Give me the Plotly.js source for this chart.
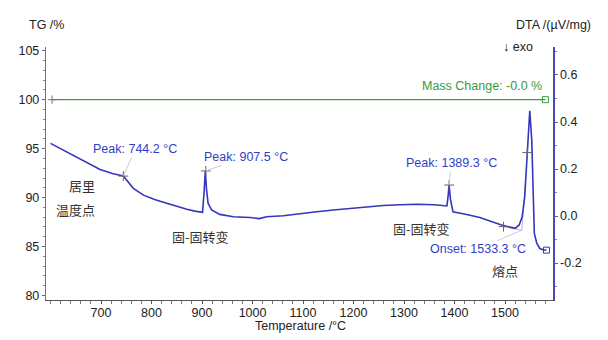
<!DOCTYPE html>
<html><head><meta charset="utf-8">
<script src="https://cdn.plot.ly/plotly-3.0.1.min.js"></script>
<style>html,body{margin:0;padding:0;background:#fff}#c{width:608px;height:340px}</style>
</head><body><div id="c"></div>
<script>
// ---- data ----
var dtaTemp = [600,631,664,698,724,736,740,744.2,749,754,764,784,806,830,850,870,886,901,904,906.5,909,912,919,935,962,995,1013,1028,1061,1094,1127,1160,1193,1226,1259,1292,1325,1360,1385,1387.5,1389.3,1392,1397,1424,1450,1493,1520,1528,1534,1539,1544,1546,1549,1553,1555,1556,1558,1563,1569,1575,1582];
var dtaVal  = [0.309,0.274,0.235,0.198,0.180,0.174,0.172,0.170,0.158,0.146,0.118,0.089,0.070,0.054,0.041,0.029,0.021,0.016,0.10,0.192,0.11,0.054,0.026,0.007,-0.003,-0.006,-0.011,-0.003,0.001,0.011,0.018,0.026,0.033,0.037,0.045,0.048,0.050,0.048,0.043,0.09,0.132,0.07,0.018,0.007,-0.006,-0.038,-0.052,-0.038,-0.003,0.082,0.27,0.35,0.448,0.32,0.139,-0.003,-0.074,-0.116,-0.138,-0.143,-0.145];
var tgTemp = [603, 800, 1000, 1200, 1400, 1580];
var tgVal  = [100, 100, 100, 100, 100, 100];
var peakTemp = [744.2, 907.5, 1389.3, 1544, 1497];
var peakVal  = [0.170, 0.192, 0.132, 0.27, -0.045];
var onsetTemp = [1497, 1533.3, 1541];
var onsetVal  = [-0.045, -0.060, 0.16];
var xTicks = [700,800,900,1000,1100,1200,1300,1400,1500];
var tgTicks = [80,85,90,95,100,105];
var dtaTicks = [-0.2,0.0,0.2,0.4,0.6];
var dtaTickText = ['-0.2','0.0','0.2','0.4','0.6'];

// ---- layout helpers ----
var L=46, R=553, T=47, B=300;
function px(x){return (x-L)/(R-L);}
function py(y){return (B-y)/(B-T);}
var blue='#3535bd', tblue='#2f3fc8', green='#3a9d3a', tgreen='#3a9a3a';
var font='Liberation Sans, Arial, sans-serif';
var cjk='Noto Sans CJK SC';

var traces = [
 {x:tgTemp, y:tgVal, xaxis:'x', yaxis:'y', mode:'lines', line:{color:green,width:1.3}, hoverinfo:'skip'},
 {x:[tgTemp[0]], y:[tgVal[0]], yaxis:'y', mode:'markers', marker:{symbol:'cross-thin-open',size:6,color:'#777',line:{width:1,color:'#777'}}},
 {x:[tgTemp[tgTemp.length-1]], y:[tgVal[tgVal.length-1]], yaxis:'y', mode:'markers', marker:{symbol:'square-open',size:6,color:green,line:{width:1}}},
 {x:onsetTemp, y:onsetVal, yaxis:'y2', mode:'lines', line:{color:'#b8b8c8',width:1}},
 {x:dtaTemp, y:dtaVal, yaxis:'y2', mode:'lines', line:{color:blue,width:1.6}},
 {x:peakTemp, y:peakVal, yaxis:'y2', mode:'markers', marker:{symbol:'cross-thin-open',size:7,color:'#666',line:{width:1,color:'#666'}}},
 {x:[dtaTemp[dtaTemp.length-1]], y:[dtaVal[dtaVal.length-1]], yaxis:'y2', mode:'markers', marker:{symbol:'square-open',size:6,color:blue,line:{width:1}}}
];

function lab(text,x,y,o){
  return Object.assign({text:text,xref:'paper',yref:'paper',x:px(x),y:py(y),showarrow:false,
    xanchor:'center',yanchor:'middle',font:{family:font,size:12.5,color:'#222'}},o||{});
}
function peakAnn(text,t,v,ax,ay){
  return {text:text,x:t,y:v,xref:'x',yref:'y2',showarrow:true,arrowhead:0,arrowwidth:0.8,
    arrowcolor:'#c0c0c8',ax:ax,ay:ay,standoff:0,font:{family:font,size:12.5,color:tblue}};
}

var anns = [
 lab('TG /%',46,25),
 lab('DTA /(µV/mg)',553,25),
 lab('<b>↓</b> exo',518,47),
 lab('Temperature /°C',300,326),
 lab('Mass Change: -0.0 %',544,86,{xanchor:'right',font:{family:font,size:12.5,color:tgreen}}),
 peakAnn('Peak: 744.2 °C',peakTemp[0],peakVal[0],12,-27),
 peakAnn('Peak: 907.5 °C',peakTemp[1],peakVal[1],40,-14),
 peakAnn('Peak: 1389.3 °C',peakTemp[2],peakVal[2],2,-22),
 peakAnn('Onset: 1533.3 °C',onsetTemp[1],onsetVal[1],-44,19),
 lab('居里',97,186,{xanchor:'right',font:{family:cjk,size:13,color:'#333'}}),
 lab('温度点',97,209,{xanchor:'right',font:{family:cjk,size:13,color:'#333'}}),
 lab('固-固转变',200,236,{font:{family:cjk,size:13,color:'#333'}}),
 lab('固-固转变',421,228,{font:{family:cjk,size:13,color:'#333'}}),
 lab('熔点',505,270,{font:{family:cjk,size:13,color:'#333'}})
];

var layout = {
  width:608, height:340, showlegend:false,
  paper_bgcolor:'#fff', plot_bgcolor:'#fff',
  margin:{l:L, r:608-R, t:T, b:340-B},
  font:{family:font,size:12,color:'#222'},
  xaxis:{range:[591,1595], tickvals:xTicks, showgrid:false, zeroline:false,
    showline:true, linecolor:'#555', linewidth:1, ticks:'outside', ticklen:3, tickcolor:'#555',
    ticklabelstandoff:-2,
    minor:{dtick:20, tick0:600, ticks:'outside', ticklen:3, tickcolor:'#777'},
    tickfont:{size:12.5,color:'#222'}},
  yaxis:{range:[79.54,105.38], tickvals:tgTicks, showgrid:false, zeroline:false,
    showline:true, linecolor:green, linewidth:1.2, ticks:'outside', ticklen:3, tickcolor:'#666',
    minor:{dtick:1, ticks:'outside', ticklen:2, tickcolor:'#888'},
    tickfont:{size:12.5,color:'#222'}},
  yaxis2:{range:[-0.357,0.719], overlaying:'y', side:'right', tickvals:dtaTicks, ticktext:dtaTickText,
    showgrid:false, zeroline:false, showline:true, linecolor:'#4a4ab8', linewidth:1.6,
    ticks:'outside', ticklen:3, tickcolor:'#666',
    minor:{dtick:0.1, ticks:'outside', ticklen:2, tickcolor:'#888'},
    tickfont:{size:12.5,color:'#222'}},
  annotations:anns
};
Plotly.newPlot('c', traces, layout, {staticPlot:true, displayModeBar:false});
</script></body></html>
